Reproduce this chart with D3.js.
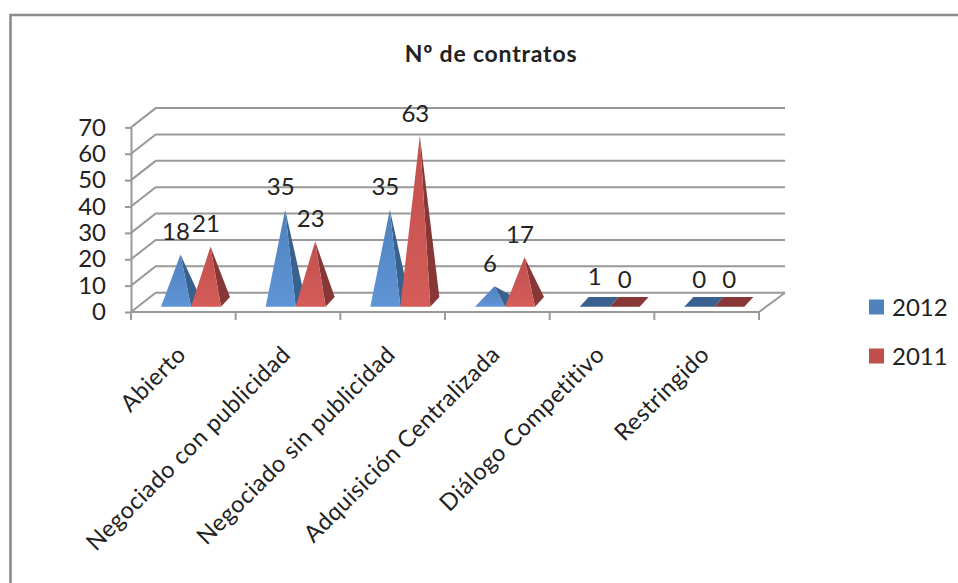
<!DOCTYPE html>
<html><head><meta charset="utf-8">
<script src="https://cdn.jsdelivr.net/npm/d3@7"></script>
<style>html,body{margin:0;padding:0;background:#fff}svg{display:block}text{font-family:Lato,"Open Sans",sans-serif;fill:#222}</style>
</head><body><svg id="c" width="958" height="583"></svg>
<script>
const categories=["Abierto","Negociado con publicidad","Negociado sin publicidad","Adquisición Centralizada","Diálogo Competitivo","Restringido"];
const seriesNames=["2012","2011"];
const values2012=[18,35,35,6,1,0];
const values2011=[21,23,63,17,0,0];
const yTicks=[0,10,20,30,40,50,60,70];
const title="Nº de contratos";

const svg=d3.select("#c");
const W=958,H=583;
const depthX=24.7,depthY=-19.3;
const yFront=d3.scaleLinear().domain([0,70]).range([312,127.4]);
const yMid=d3.scaleLinear().domain([0,70]).range([302,117.4]);
const x=d3.scaleBand().domain(categories).range([131,759]);
const xS=d3.scaleBand().domain(seriesNames).range([30,90]);
const baseY=306.8, pdx=9, pdy=-9.8;
const colors={"2012":{top:"#5f94d6",front:"#4f81bd",side:"#39618f"},"2011":{top:"#d55c59",front:"#c0504d",side:"#873736"}};
const grey="#999999";

const defs=svg.append("defs");
seriesNames.forEach(s=>{
  const g=defs.append("linearGradient").attr("id","g"+s).attr("x1",0).attr("x2",0).attr("y1",0).attr("y2",1);
  g.append("stop").attr("offset","0%").attr("stop-color",colors[s].front);
  g.append("stop").attr("offset","100%").attr("stop-color",colors[s].top);
});

svg.append("path").attr("d",`M10.5,${H} V15 H${W}`).attr("fill","none").attr("stroke","#8c8c8c").attr("stroke-width",2.6);
svg.append("text").attr("x",491).attr("y",62).attr("text-anchor","middle").attr("font-size",23).attr("letter-spacing",0.8).attr("font-weight",700).text(title);

// walls
const grid=svg.append("g").attr("fill","none").attr("stroke",grey).attr("stroke-width",2);
yTicks.forEach(t=>{
  const yy=yFront(t);
  grid.append("path").attr("d",`M131,${yy} L${131+depthX},${yy+depthY} H785`);
});
grid.append("path").attr("d",`M131,312 H759 L785,${312+depthY}`);

// axes
const yAxis=d3.axisLeft(yFront).tickValues(yTicks).tickSize(6).tickPadding(19).tickSizeOuter(0).tickFormat(d3.format("d"));
const gy=svg.append("g").attr("transform","translate(131,0)").call(yAxis);
gy.selectAll("path,line").attr("stroke",grey).attr("stroke-width",2);
gy.selectAll("text").attr("font-size",24).attr("font-family","Lato").attr("fill","#222");

const xEdges=categories.map(c=>x(c)).concat([x.range()[1]]);
svg.append("g").selectAll("line").data(xEdges).join("line")
  .attr("x1",d=>d).attr("x2",d=>d).attr("y1",312).attr("y2",320).attr("stroke",grey).attr("stroke-width",2);

const gx=svg.append("g");
gx.selectAll("text").data(categories).join("text")
  .attr("text-anchor","end").attr("font-size",23.5).attr("letter-spacing",0.5)
  .attr("transform",c=>`translate(${x(c)+x.step()/2+4},356) rotate(-45)`)
  .text(c=>c);

// pyramids
const data=[];
categories.forEach((c,i)=>{
  data.push({c,s:"2012",v:values2012[i]});
  data.push({c,s:"2011",v:values2011[i]});
});
const marks=svg.append("g");
const pt=a=>a.map(p=>p.join(",")).join(" ");
data.forEach(d=>{
  const x0=x(d.c)+xS(d.s), x1=x0+xS.bandwidth();
  const ax=(x0+x1)/2+pdx/2, ay=yMid(d.v);
  const flat=d.v<=1;
  if(flat){
    marks.append("polygon").attr("points",pt([[x0,baseY],[x1,baseY],[x1+pdx,baseY+pdy],[x0+pdx,baseY+pdy]])).attr("fill",colors[d.s].side);
    return;
  }
  marks.append("polygon").attr("points",pt([[x1,baseY],[x1+pdx,baseY+pdy],[ax,ay]])).attr("fill",colors[d.s].side);
  marks.append("polygon").attr("points",pt([[x0,baseY],[x1,baseY],[ax,ay]])).attr("fill",`url(#g${d.s})`);
});

svg.append("g").selectAll("text").data(data).join("text")
  .attr("x",d=>x(d.c)+xS(d.s)+xS.bandwidth()/2)
  .attr("y",d=>yMid(d.v)-23)
  .attr("dy","0.36em").attr("text-anchor","middle").attr("font-size",24).text(d=>d.v);

// legend
const ly=d3.scalePoint().domain(seriesNames).range([307,356]);
const leg=svg.append("g").selectAll("g").data(seriesNames).join("g").attr("transform",s=>`translate(869,${ly(s)})`);
leg.append("rect").attr("x",0).attr("y",-7.5).attr("width",15).attr("height",15).attr("fill",s=>colors[s].front);
leg.append("text").attr("x",23).attr("dy","0.36em").attr("font-size",24).text(s=>s);
</script></body></html>
